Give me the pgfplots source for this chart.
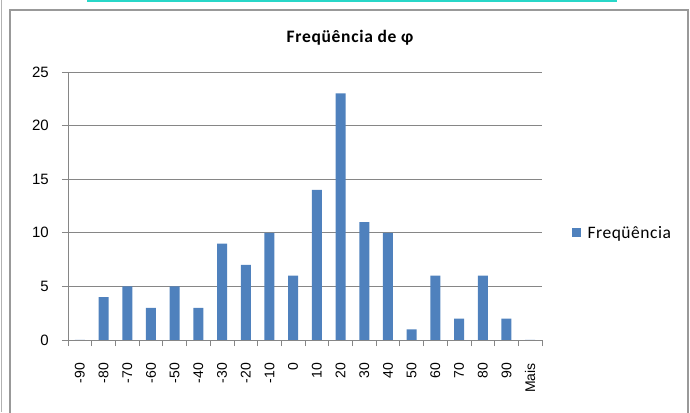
\documentclass[border=0pt]{standalone}
\usepackage{pgfplots}
\pgfplotsset{compat=1.18}
\usepackage{fontspec}
\setmainfont{Carlito}
\newfontfamily\arialf{Liberation Sans}
\newfontfamily\titlef[LetterSpace=4]{Carlito}
\newfontfamily\legf[LetterSpace=3]{Carlito}
\definecolor{barblue}{RGB}{79,129,189}
\definecolor{gridgray}{RGB}{134,134,134}
\definecolor{stripcyan}{RGB}{40,215,200}
\begin{document}
\begin{tikzpicture}[x=1pt,y=1pt]
\path[use as bounding box] (0,0) rectangle (690,412);
\draw[gray!60, line width=0.6pt] (1.5,0) -- (1.5,412);
\draw[gray!80, line width=1.3pt] (10,-5) -- (10,402) -- (688,402) -- (688,-5);
\fill[stripcyan] (87,409.5) rectangle (617,412);
\begin{axis}[
  at={(68pt,72pt)}, anchor=south west,
  scale only axis, width=474pt, height=268pt,
  ymin=0, ymax=25, xmin=-0.5, xmax=19.5,
  ytick={0,5,...,25},
  xtick={0,...,19},
  xticklabels={-90,-80,-70,-60,-50,-40,-30,-20,-10,0,10,20,30,40,50,60,70,80,90,Mais},
  minor xtick={-0.5,0.5,...,19.5},
  axis x line*=bottom, axis y line*=left,
  axis line style={draw=gridgray, line width=0.8pt, -},
  ymajorgrids, grid style={draw=gridgray, line width=0.8pt},
  major x tick style={draw=none},
  minor x tick style={draw=gridgray, line width=0.8pt},
  major y tick style={draw=gridgray, line width=0.8pt},
  tick align=outside, major tick length=6pt, minor tick length=6pt,
  xticklabel style={rotate=90, anchor=east, font=\arialf\fontsize{14}{16}\selectfont, inner sep=0pt, xshift=-17pt},
  yticklabel style={font=\arialf\fontsize{15}{17}\selectfont, inner sep=0pt, xshift=-13pt},
  /pgf/number format/assume math mode=true,
  legend style={at={(1.062,0.40)}, anchor=west, draw=none, fill=none,
    font=\legf\fontsize{17.5}{19}\selectfont, inner sep=0pt, column sep=5pt},
  legend image code/.code={\fill[barblue] (0pt,-4.5pt) rectangle (9pt,4.5pt);},
]
\addplot[ybar, bar width=10pt, fill=barblue, draw=none] coordinates {
(0,0) (1,4) (2,5) (3,3) (4,5) (5,3) (6,9) (7,7) (8,10) (9,6)
(10,14) (11,23) (12,11) (13,10) (14,1) (15,6) (16,2) (17,6) (18,2) (19,0)};
\addlegendentry{Freqüência}
\end{axis}
\node[font=\titlef\bfseries\fontsize{17.5}{19}\selectfont, inner sep=0pt] at (350,374) {Freqüência de φ};
\end{tikzpicture}
\end{document}
